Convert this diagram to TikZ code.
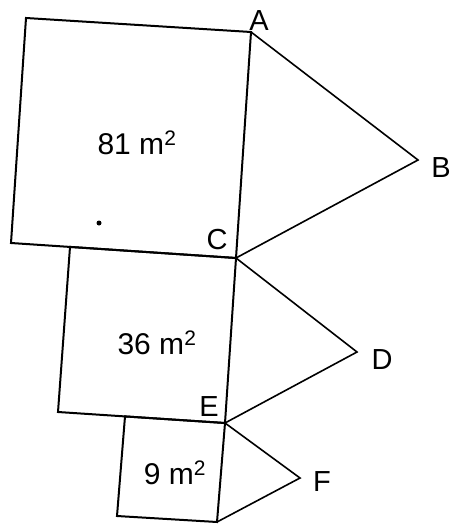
\documentclass[tikz,border=0pt]{standalone}
\usepackage{fontspec}
\setmainfont{Liberation Sans}
\usetikzlibrary{positioning}
\tikzstyle{side} = [black, line width=2pt, line join=miter]
\tikzstyle{leg} = [black, line width=1.6pt]
\tikzstyle{letter} = [inner sep=0pt, font=\fontsize{29}{34}\selectfont]
\tikzstyle{area} = [inner sep=0pt, font=\fontsize{30}{36}\selectfont]

\begin{document}
\begin{tikzpicture}[x=1pt, y=-1pt]
\useasboundingbox (0,0) rectangle (450,524);
% corners of the squares
\coordinate (a1) at (26,18);
\coordinate (A) at (251,32);
\coordinate (C) at (236,258);
\coordinate (a2) at (11,243);
\coordinate (b1) at (70,246.9);
\coordinate (E) at (225,423);
\coordinate (b2) at (58,412);
\coordinate (c1) at (125,416.4);
\coordinate (G) at (217,522);
\coordinate (c2) at (117,516);
% tips of the triangles
\coordinate (B) at (418,160);
\coordinate (D) at (357,352);
\coordinate (F) at (300,478);

\draw[side] (a1) -- (A) -- (C) -- (a2) -- cycle;
\draw[side] (b1) -- (C) -- (E) -- (b2) -- cycle;
\draw[side] (c1) -- (E) -- (G) -- (c2) -- cycle;
\draw[leg] (A) -- (B) -- (C);
\draw[leg] (C) -- (D) -- (E);
\draw[leg] (E) -- (F) -- (G);

\node[circle, fill, inner sep=0pt, minimum size=5pt] (dot) at (99,223) {};

\node[area] (s81) at (137,143) {81 m\textsuperscript{2}};
\node[area] (s36) at (157,343) {36 m\textsuperscript{2}};
\node[area] (s9) at (175,473) {9 m\textsuperscript{2}};

\node[letter] (lA) at (259,21) {A};
\node[letter] (lB) at (441,168) {B};
\node[letter] (lC) at (217,240) {C};
\node[letter] (lD) at (382,360) {D};
\node[letter] (lE) at (209,407) {E};
\node[letter] (lF) at (322,482) {F};
\end{tikzpicture}
\end{document}
